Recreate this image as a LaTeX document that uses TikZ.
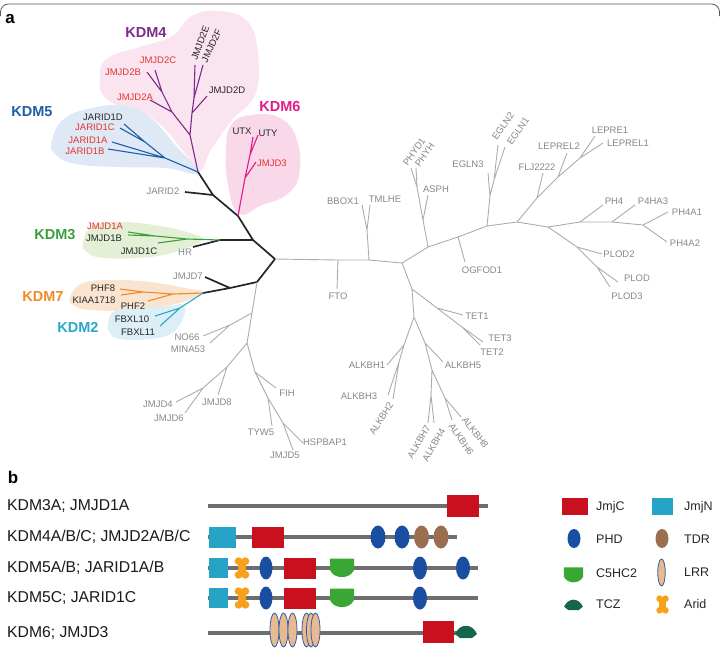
\documentclass[tikz,border=0pt]{standalone}
\usepackage{fontspec}
\setmainfont{Liberation Sans}
\usetikzlibrary{shapes.geometric}

\definecolor{kdmfour}{RGB}{126,43,142}
\definecolor{kdmfive}{RGB}{31,94,168}
\definecolor{kdmsix}{RGB}{229,25,138}
\definecolor{kdmthree}{RGB}{58,159,58}
\definecolor{kdmseven}{RGB}{240,138,36}
\definecolor{kdmtwo}{RGB}{42,168,200}
\definecolor{leafred}{RGB}{232,50,46}
\definecolor{leafgray}{RGB}{135,135,135}
\definecolor{treegray}{RGB}{172,172,172}
\definecolor{blobfour}{RGB}{249,228,240}
\definecolor{blobfive}{RGB}{222,233,245}
\definecolor{blobsix}{RGB}{249,216,233}
\definecolor{blobthree}{RGB}{228,240,214}
\definecolor{blobseven}{RGB}{250,228,208}
\definecolor{blobtwo}{RGB}{220,238,246}
\definecolor{jmjcred}{RGB}{200,16,30}
\definecolor{jmjncyan}{RGB}{38,164,200}
\definecolor{phdblue}{RGB}{25,78,160}
\definecolor{tdrbrown}{RGB}{155,110,80}
\definecolor{aridorange}{RGB}{246,160,28}
\definecolor{cfivegreen}{RGB}{58,166,52}
\definecolor{lrrtan}{RGB}{232,186,145}
\definecolor{lrrblue}{RGB}{50,90,165}
\definecolor{tczgreen}{RGB}{22,102,78}
\definecolor{rowgray}{RGB}{110,110,110}

\tikzset{
  c5hc2/.pic={\fill[cfivegreen] (-12,-9.5) -- (12,-9.5) -- (12,2) .. controls (8,11.5) and (-8,11.5) .. (-12,2) -- cycle;},
  tcz/.pic={\fill[tczgreen] (-11,2) .. controls (-6,-9) and (6,-9) .. (11,2) -- (6,6) -- (-6,6) -- cycle;},
  arid/.pic={
    \fill[aridorange] (-3.4,-6.8) circle[radius=3.9];
    \fill[aridorange] (3.4,-6.8) circle[radius=3.9];
    \fill[aridorange] (-3.4,6.8) circle[radius=3.9];
    \fill[aridorange] (3.4,6.8) circle[radius=3.9];
    \fill[aridorange] (-4.3,-7) rectangle (4.3,7);},
}

\begin{document}
\begin{tikzpicture}[x=1pt,y=-1pt,line join=round,
  lbl/.style={inner sep=0pt, font=\fontsize{9.5}{11}\selectfont},
  grayleaf/.style={lbl, text=leafgray},
  redleaf/.style={lbl, text=leafred},
  blackleaf/.style={lbl, text=black!85},
  fam/.style={inner sep=0pt, font=\fontsize{14.5}{16}\selectfont\bfseries},
  graybr/.style={draw=treegray, line width=0.9pt},
  blackbr/.style={draw=black!85, line width=1.7pt},
  colbr/.style={draw=#1, line width=1.1pt},
  backbone/.style={draw=rowgray, line width=3.6pt},
  jmjc/.style={rectangle, fill=jmjcred, inner sep=0pt, minimum width=32pt, minimum height=21pt},
  jmjn/.style={rectangle, fill=jmjncyan, inner sep=0pt, minimum width=19pt, minimum height=20pt},
  phd/.style={ellipse, fill=phdblue, inner sep=0pt, minimum width=14pt, minimum height=23pt},
  tdr/.style={phd, fill=tdrbrown},
  lrr/.style={ellipse, draw=lrrblue, line width=0.8pt, fill=lrrtan, inner sep=0pt, minimum width=9pt, minimum height=34pt},
  rowlbl/.style={anchor=west, inner sep=0pt, font=\fontsize{15.7}{18}\selectfont, text=black!90},
  leglbl/.style={anchor=west, inner sep=0pt, font=\fontsize{12.5}{14}\selectfont, text=black!85},
  panel/.style={inner sep=0pt, font=\fontsize{17}{18}\selectfont\bfseries}]
\useasboundingbox (0,0) rectangle (720,649);
\draw[rounded corners=8pt, line width=0.8pt, black!65] (0.5,16) -- (0.5,4) -- (719.5,4) -- (719.5,16);

\node[panel] (pa) at (10,19) {a};
\node[panel] (pb) at (13,477) {b};

% family clouds
\fill[blobfour] plot[smooth cycle, tension=0.75] coordinates {(100,76) (108,58) (140,47) (172,36) (192,16) (220,11) (248,22) (258,55) (255,95) (232,120) (211,150) (199,172) (184,152) (152,118) (108,100)};
\fill[blobfive] plot[smooth cycle, tension=0.75] coordinates {(52,140) (64,119) (92,108) (126,106) (152,119) (176,146) (199,173) (165,168) (120,167) (76,164) (55,154)};
\fill[blobsix] plot[smooth cycle, tension=0.75] coordinates {(226,150) (231,125) (251,115) (280,118) (297,140) (299,175) (286,195) (262,205) (239,214) (228,185)};
\fill[blobthree] plot[smooth cycle, tension=0.75] coordinates {(83,242) (93,226) (121,222) (160,226) (190,233) (203,240) (181,250) (150,257) (105,258) (87,252)};
\fill[blobseven] plot[smooth cycle, tension=0.75] coordinates {(70,298) (81,284) (110,280) (150,282) (185,288) (203,293) (176,304) (140,310) (91,310) (73,305)};
\fill[blobtwo] plot[smooth cycle, tension=0.75] coordinates {(108,323) (115,311) (140,308) (170,306) (184,305) (183,318) (172,333) (150,339) (120,339) (110,333)};

% black backbone
\coordinate (t0) at (198,172); \coordinate (t1) at (213,195);
\coordinate (t2) at (238,216); \coordinate (t3) at (253,240);
\coordinate (t4) at (220,240); \coordinate (r0) at (275,259);
\coordinate (t5) at (257,282); \coordinate (t6) at (230,288);
\coordinate (t7) at (203,293);
\coordinate (ejarid2) at (185,192); \coordinate (ehr) at (193,247);
\coordinate (ejmjd7) at (205,277);
\draw[blackbr] (t0) -- (t1) -- (t2) -- (t3) -- (r0) -- (t5) -- (t6) -- (t7)
  (t1) -- (ejarid2) (t3) -- (t4) -- (ehr) (t6) -- (ejmjd7);

% KDM4
\coordinate (p0) at (190,135); \coordinate (q1) at (172,112);
\coordinate (q2) at (162,92); \coordinate (p1) at (192,113);
\coordinate (p2) at (194,98);
\coordinate (ejmjd2a) at (150,100); \coordinate (ejmjd2b) at (147,72);
\coordinate (ejmjd2c) at (155,70); \coordinate (ejmjd2d) at (207,96);
\coordinate (ejmjd2e) at (195,65); \coordinate (ejmjd2f) at (203,65);
\draw[colbr=kdmfour] (t0) -- (p0) -- (q1) -- (q2) -- (ejmjd2b) (q1) -- (ejmjd2a) (q2) -- (ejmjd2c)
  (p0) -- (p1) -- (p2) -- (ejmjd2e) (p1) -- (ejmjd2d) (p2) -- (ejmjd2f);

% KDM5
\coordinate (b1) at (165,158); \coordinate (b2) at (145,142);
\coordinate (ejarid1b) at (108,149); \coordinate (ejarid1a) at (112,142);
\coordinate (ejarid1c) at (120,128); \coordinate (ejarid1d) at (124,124);
\draw[colbr=kdmfive] (t0) -- (b1) -- (ejarid1b) (b1) -- (ejarid1a) (b1) -- (b2) -- (ejarid1c) (b2) -- (ejarid1d);

% KDM6
\coordinate (m1) at (245,178); \coordinate (m2) at (250,155);
\coordinate (ejmjd3) at (256,162); \coordinate (eutx) at (253,137); \coordinate (euty) at (258,135);
\draw[colbr=kdmsix] (t2) -- (m1) -- (ejmjd3) (m1) -- (m2) -- (eutx) (m2) -- (euty);

% KDM3
\coordinate (g3) at (187,239); \coordinate (g4) at (155,236);
\coordinate (ejmjd1c) at (158,243); \coordinate (ejmjd1a) at (128,232); \coordinate (ejmjd1b) at (128,235);
\draw[colbr=kdmthree] (t4) -- (g3) -- (ejmjd1c) (g3) -- (g4) -- (ejmjd1a) (g4) -- (ejmjd1b);

% KDM7 and KDM2
\coordinate (o1) at (173,294); \coordinate (o2) at (143,292);
\coordinate (ephf2) at (148,301); \coordinate (ephf8) at (120,289); \coordinate (ekiaa) at (121,295);
\coordinate (c1) at (180,308);
\coordinate (efbxl10) at (155,316); \coordinate (efbxl11) at (160,326);
\draw[colbr=kdmseven] (t7) -- (o1) -- (ephf2) (o1) -- (o2) -- (ephf8) (o2) -- (ekiaa);
\draw[colbr=kdmtwo] (t7) -- (c1) -- (efbxl10) (c1) -- (efbxl11);

% gray part, lower left
\coordinate (g1) at (252,313); \coordinate (g2) at (247,343);
\coordinate (n1) at (230,325); \coordinate (j1) at (227,367); \coordinate (j2) at (203,388);
\coordinate (f1) at (255,372); \coordinate (f2) at (268,398); \coordinate (f3) at (283,423);
\coordinate (eno66) at (203,336); \coordinate (emina53) at (210,343);
\coordinate (ejmjd8) at (218,395); \coordinate (ejmjd4) at (176,402); \coordinate (ejmjd6) at (185,413);
\coordinate (efih) at (276,388); \coordinate (etyw5) at (272,426);
\coordinate (ehspbap1) at (303,443); \coordinate (ejmjd5) at (293,450);
\draw[graybr] (t5) -- (g1) -- (g2) (g1) -- (n1) -- (eno66) (n1) -- (emina53)
  (g2) -- (j1) -- (j2) -- (ejmjd4) (j2) -- (ejmjd6) (j1) -- (ejmjd8)
  (g2) -- (f1) -- (efih) (f1) -- (f2) -- (etyw5) (f2) -- (f3) -- (ehspbap1) (f3) -- (ejmjd5);

% gray part, right
\coordinate (a1) at (338,260); \coordinate (a2) at (369,260); \coordinate (a3) at (402,263);
\coordinate (bb) at (367,230);
\coordinate (efto) at (337,289); \coordinate (ebbox1) at (362,205); \coordinate (etmlhe) at (370,205);
\coordinate (u1) at (428,247); \coordinate (u2) at (458,237); \coordinate (u3) at (487,226);
\coordinate (u4) at (517,222); \coordinate (u5) at (548,227); \coordinate (u6) at (580,222);
\coordinate (u7) at (612,222); \coordinate (u8) at (643,225);
\coordinate (h1) at (423,220); \coordinate (h2) at (417,187);
\coordinate (easph) at (428,195); \coordinate (ephyd1) at (411,168); \coordinate (ephyh) at (416,168);
\coordinate (eogfod1) at (465,262);
\coordinate (e1) at (490,196); \coordinate (e2) at (494,180);
\coordinate (eegln3) at (488,173); \coordinate (eegln2) at (498,145); \coordinate (eegln1) at (505,147);
\coordinate (l1) at (537,198); \coordinate (l2) at (558,177); \coordinate (l3) at (580,158);
\coordinate (eflj) at (543,173); \coordinate (eleprel2) at (567,153);
\coordinate (elepre1) at (595,136); \coordinate (eleprel1) at (603,143);
\coordinate (s1) at (577,247); \coordinate (s2) at (597,267);
\coordinate (eplod2) at (602,254); \coordinate (eplod) at (618,282); \coordinate (eplod3) at (610,287);
\coordinate (eph4) at (603,205); \coordinate (ep4ha3) at (635,205);
\coordinate (eph4a1) at (668,212); \coordinate (eph4a2) at (667,242);
\draw[graybr] (r0) -- (a1) -- (a2) -- (a3) (a1) -- (efto) (a2) -- (bb) -- (ebbox1) (bb) -- (etmlhe)
  (a3) -- (u1) -- (u2) -- (u3) -- (u4) -- (u5) -- (u6) -- (u7) -- (u8)
  (u1) -- (h1) -- (easph) (h1) -- (h2) -- (ephyd1) (h2) -- (ephyh)
  (u2) -- (eogfod1)
  (u3) -- (e1) -- (eegln3) (e1) -- (e2) -- (eegln2) (e2) -- (eegln1)
  (u4) -- (l1) -- (eflj) (l1) -- (l2) -- (eleprel2) (l2) -- (l3) -- (elepre1) (l3) -- (eleprel1)
  (u5) -- (s1) -- (eplod2) (s1) -- (s2) -- (eplod) (s2) -- (eplod3)
  (u6) -- (eph4) (u7) -- (ep4ha3) (u8) -- (eph4a1) (u8) -- (eph4a2);

% gray part, TET and ALKBH
\coordinate (d1) at (412,289); \coordinate (d2) at (414,317); \coordinate (d3) at (425,343);
\coordinate (d4) at (432,370); \coordinate (d5) at (431,395); \coordinate (d6) at (445,398);
\coordinate (w1) at (437,308); \coordinate (w2) at (462,327);
\coordinate (k1) at (404,345); \coordinate (k2) at (399,362);
\coordinate (etet1) at (463,315); \coordinate (etet3) at (483,342); \coordinate (etet2) at (480,345);
\coordinate (ealkbh1) at (387,365); \coordinate (ealkbh3) at (388,395); \coordinate (ealkbh2) at (393,399);
\coordinate (ealkbh5) at (443,362);
\coordinate (ealkbh7) at (428,423); \coordinate (ealkbh4) at (434,423);
\coordinate (ealkbh6) at (452,420); \coordinate (ealkbh8) at (461,417);
\draw[graybr] (a3) -- (d1) -- (d2) -- (d3) -- (d4) -- (d5) -- (ealkbh7) (d5) -- (ealkbh4)
  (d1) -- (w1) -- (etet1) (w1) -- (w2) -- (etet3) (w2) -- (etet2)
  (d2) -- (k1) -- (ealkbh1) (k1) -- (k2) -- (ealkbh3) (k2) -- (ealkbh2)
  (d3) -- (ealkbh5) (d4) -- (d6) -- (ealkbh6) (d6) -- (ealkbh8);

% family names
\node[fam, text=kdmfour] (kdm4) at (146,33) {KDM4};
\node[fam, text=kdmfive] (kdm5) at (32,112) {KDM5};
\node[fam, text=kdmsix] (kdm6) at (280,107) {KDM6};
\node[fam, text=kdmthree] (kdm3) at (55,235) {KDM3};
\node[fam, text=kdmseven] (kdm7) at (43,297) {KDM7};
\node[fam, text=kdmtwo] (kdm2) at (78,327) {KDM2};

% leaf names
\node[redleaf] (jmjd2c) at (158,60) {JMJD2C};
\node[redleaf] (jmjd2b) at (123,72) {JMJD2B};
\node[redleaf] (jmjd2a) at (135,97) {JMJD2A};
\node[blackleaf] (jmjd2d) at (227,90) {JMJD2D};
\node[blackleaf, rotate=70, anchor=west] (jmjd2e) at (194,60) {JMJD2E};
\node[blackleaf, rotate=65, anchor=west] (jmjd2f) at (204,62) {JMJD2F};
\node[blackleaf] (jarid1d) at (103,117) {JARID1D};
\node[redleaf] (jarid1c) at (95,127) {JARID1C};
\node[redleaf] (jarid1a) at (88,140) {JARID1A};
\node[redleaf] (jarid1b) at (85,151) {JARID1B};
\node[blackleaf] (utx) at (242,131) {UTX};
\node[blackleaf] (uty) at (268,133) {UTY};
\node[redleaf] (jmjd3) at (272,163) {JMJD3};
\node[grayleaf] (jarid2) at (163,191) {JARID2};
\node[redleaf] (jmjd1a) at (105,226) {JMJD1A};
\node[blackleaf] (jmjd1b) at (104,238) {JMJD1B};
\node[blackleaf] (jmjd1c) at (139,251) {JMJD1C};
\node[grayleaf] (hr) at (185,252) {HR};
\node[grayleaf] (jmjd7) at (188,276) {JMJD7};
\node[blackleaf] (phf8) at (103,288) {PHF8};
\node[blackleaf] (kiaa1718) at (94,300) {KIAA1718};
\node[blackleaf] (phf2) at (133,306) {PHF2};
\node[blackleaf] (fbxl10) at (132,319) {FBXL10};
\node[blackleaf] (fbxl11) at (138,332) {FBXL11};
\node[grayleaf] (no66) at (187,337) {NO66};
\node[grayleaf] (mina53) at (188,349) {MINA53};
\node[grayleaf] (jmjd4) at (158,404) {JMJD4};
\node[grayleaf] (jmjd6) at (169,418) {JMJD6};
\node[grayleaf] (jmjd8) at (217,402) {JMJD8};
\node[grayleaf] (fih) at (287,393) {FIH};
\node[grayleaf] (tyw5) at (261,432) {TYW5};
\node[grayleaf] (hspbap1) at (325,442) {HSPBAP1};
\node[grayleaf] (jmjd5) at (285,455) {JMJD5};
\node[grayleaf] (fto) at (338,296) {FTO};
\node[grayleaf] (bbox1) at (343,201) {BBOX1};
\node[grayleaf] (tmlhe) at (385,199) {TMLHE};
\node[grayleaf, rotate=55, anchor=west] (phyd1) at (405,165) {PHYD1};
\node[grayleaf, rotate=55, anchor=west] (phyh) at (417,166) {PHYH};
\node[grayleaf] (asph) at (436,189) {ASPH};
\node[grayleaf] (egln3) at (468,164) {EGLN3};
\node[grayleaf, rotate=55, anchor=west] (egln2) at (494,139) {EGLN2};
\node[grayleaf, rotate=55, anchor=west] (egln1) at (509,144) {EGLN1};
\node[grayleaf] (ogfod1) at (482,270) {OGFOD1};
\node[grayleaf] (flj2222) at (537,167) {FLJ2222};
\node[grayleaf] (leprel2) at (559,146) {LEPREL2};
\node[grayleaf] (lepre1) at (610,130) {LEPRE1};
\node[grayleaf] (leprel1) at (628,143) {LEPREL1};
\node[grayleaf] (ph4) at (614,201) {PH4};
\node[grayleaf] (p4ha3) at (653,201) {P4HA3};
\node[grayleaf] (ph4a1) at (687,212) {PH4A1};
\node[grayleaf] (ph4a2) at (685,243) {PH4A2};
\node[grayleaf] (plod2) at (619,254) {PLOD2};
\node[grayleaf] (plod) at (637,278) {PLOD};
\node[grayleaf] (plod3) at (627,296) {PLOD3};
\node[grayleaf] (tet1) at (477,316) {TET1};
\node[grayleaf] (tet3) at (500,338) {TET3};
\node[grayleaf] (tet2) at (492,352) {TET2};
\node[grayleaf] (alkbh5) at (463,365) {ALKBH5};
\node[grayleaf] (alkbh1) at (367,365) {ALKBH1};
\node[grayleaf] (alkbh3) at (359,396) {ALKBH3};
\node[grayleaf, rotate=58, anchor=east] (alkbh2) at (391,403) {ALKBH2};
\node[grayleaf, rotate=60, anchor=east] (alkbh7) at (428,426) {ALKBH7};
\node[grayleaf, rotate=60, anchor=east] (alkbh4) at (443,429) {ALKBH4};
\node[grayleaf, rotate=-56, anchor=west] (alkbh6) at (451,424) {ALKBH6};
\node[grayleaf, rotate=-52, anchor=west] (alkbh8) at (464,418) {ALKBH8};

% panel b: domain maps
\node[rowlbl] (rowa) at (7,506) {KDM3A; JMJD1A};
\node[rowlbl] (rowb) at (7,537) {KDM4A/B/C; JMJD2A/B/C};
\node[rowlbl] (rowc) at (7,568) {KDM5A/B; JARID1A/B};
\node[rowlbl] (rowd) at (7,598) {KDM5C; JARID1C};
\node[rowlbl] (rowe) at (7,633) {KDM6; JMJD3};

\draw[backbone] (208,506) -- (488,506);
\draw[backbone] (208,537) -- (457,537);
\draw[backbone] (208,568) -- (478,568);
\draw[backbone] (208,598) -- (478,598);
\draw[backbone] (208,633) -- (470,633);

\node[jmjc, minimum height=22pt] (ca) at (463,506) {};

\node[jmjn, minimum width=27pt, minimum height=21pt] (nb) at (222.5,537) {};
\node[jmjc] (cb) at (268,537) {};
\foreach \x/\n in {378/1,402/2} \node[phd, minimum width=15pt] (phdb\n) at (\x,537) {};
\foreach \x/\n in {421.5/1,441/2} \node[tdr, minimum width=15pt] (tdrb\n) at (\x,537) {};

\foreach \y/\r in {568/c,598/d} {
  \node[jmjn] (n\r) at (218.5,\y) {};
  \pic at (242,\y) {arid};
  \node[phd, minimum width=13pt] (phd\r) at (266,\y) {};
  \node[jmjc] (c\r) at (300,\y) {};
  \pic at (342,\y) {c5hc2};
  \node[phd] (phd\r2) at (420,\y) {};
}
\node[phd] (phdc3) at (463,568) {};

\foreach \x/\n in {274.5/1,283.5/2,292.5/3,306.5/4,311/5,315.5/6} \node[lrr] (lrr\n) at (\x,630) {};
\node[jmjc, minimum height=22pt, minimum width=31pt] (ce) at (438.5,632) {};
\pic at (466,632) {tcz};

% legend
\node[jmjc, minimum width=26pt, minimum height=17pt] (kjmjc) at (575,506.5) {};
\node[leglbl] (tjmjc) at (596,507) {JmjC};
\node[jmjn, minimum width=21pt, minimum height=17pt] (kjmjn) at (662.5,506.5) {};
\node[leglbl] (tjmjn) at (684,507) {JmjN};
\node[phd, minimum width=13pt, minimum height=19pt] (kphd) at (574,538.5) {};
\node[leglbl] (tphd) at (596,539) {PHD};
\node[tdr, minimum width=13pt, minimum height=19pt] (ktdr) at (662,538.5) {};
\node[leglbl] (ttdr) at (684,539) {TDR};
\pic[scale=0.8] at (573.5,575) {c5hc2};
\node[leglbl] (tc5hc2) at (596,573) {C5HC2};
\node[lrr, minimum width=7.5pt, minimum height=27pt] (klrr) at (661.5,572.5) {};
\node[leglbl] (tlrr) at (684,572) {LRR};
\pic[scale=0.85] at (573.5,605) {tcz};
\node[leglbl] (ttcz) at (596,604) {TCZ};
\pic[scale=0.85] at (662.5,604.5) {arid};
\node[leglbl] (tarid) at (684,604) {Arid};
\end{tikzpicture}
\end{document}
